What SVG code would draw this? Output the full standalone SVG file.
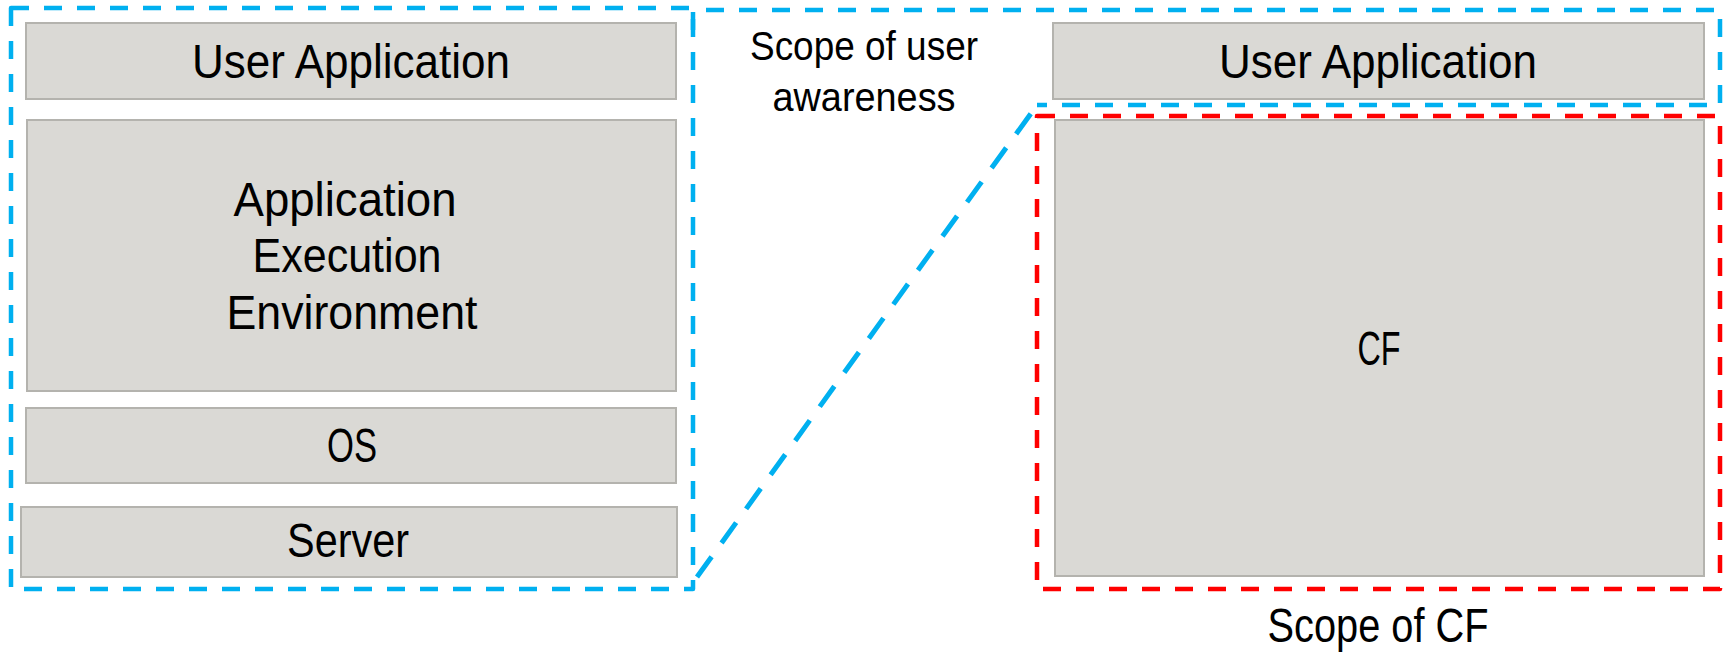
<svg xmlns="http://www.w3.org/2000/svg" width="1723" height="653" viewBox="0 0 1723 653">
<style>
.box{fill:#dad9d5;stroke:#b4b3ae;stroke-width:2}
.lbl{font-family:"Liberation Sans","Arial",sans-serif;font-size:48px;fill:#000;text-anchor:middle}
.small{font-size:40px}
.blue{fill:none;stroke:#00b0f0;stroke-width:4.5;stroke-dasharray:18 15;stroke-linejoin:round}
.diag{fill:none;stroke:#00b0f0;stroke-width:5;stroke-dasharray:25 17}
.red{fill:none;stroke:#ff0000;stroke-width:4.5;stroke-dasharray:18 15;stroke-linejoin:round}
</style>
<rect width="1723" height="653" fill="#ffffff"/>
<g id="scopes">
<rect class="blue" x="11" y="8" width="682" height="581"/>
<path class="blue" d="M693,30 L693,10 L1720,10 L1720,105 L1037,105"/>
<path class="diag" d="M697,577 L1037,105"/>
<rect class="red" x="1037" y="116" width="683" height="473"/>
</g>
<g id="left-user-app">
<rect class="box" x="26" y="23" width="650" height="76"/>
<text class="lbl" x="351" y="78" textLength="318" lengthAdjust="spacingAndGlyphs">User Application</text>
</g>
<g id="app-exec-env">
<rect class="box" x="27" y="120" width="649" height="271"/>
<text class="lbl" x="345" y="216" textLength="223" lengthAdjust="spacingAndGlyphs">Application</text>
<text class="lbl" x="347" y="272" textLength="189" lengthAdjust="spacingAndGlyphs">Execution</text>
<text class="lbl" x="352" y="329" textLength="251" lengthAdjust="spacingAndGlyphs">Environment</text>
</g>
<g id="os">
<rect class="box" x="26" y="408" width="650" height="75"/>
<text class="lbl" x="352" y="462" textLength="50" lengthAdjust="spacingAndGlyphs">OS</text>
</g>
<g id="server">
<rect class="box" x="21" y="507" width="656" height="70"/>
<text class="lbl" x="348" y="557" textLength="122" lengthAdjust="spacingAndGlyphs">Server</text>
</g>
<g id="right-user-app">
<rect class="box" x="1053" y="23" width="651" height="76"/>
<text class="lbl" x="1378" y="78" textLength="318" lengthAdjust="spacingAndGlyphs">User Application</text>
</g>
<g id="cf">
<rect class="box" x="1055" y="120" width="649" height="456"/>
<text class="lbl" x="1379" y="365" textLength="43" lengthAdjust="spacingAndGlyphs">CF</text>
</g>
<g id="labels">
<text class="lbl small" x="864" y="60" textLength="228" lengthAdjust="spacingAndGlyphs">Scope of user</text>
<text class="lbl small" x="864" y="111" textLength="183" lengthAdjust="spacingAndGlyphs">awareness</text>
<text class="lbl" x="1378" y="642" textLength="221" lengthAdjust="spacingAndGlyphs">Scope of CF</text>
</g>
</svg>
